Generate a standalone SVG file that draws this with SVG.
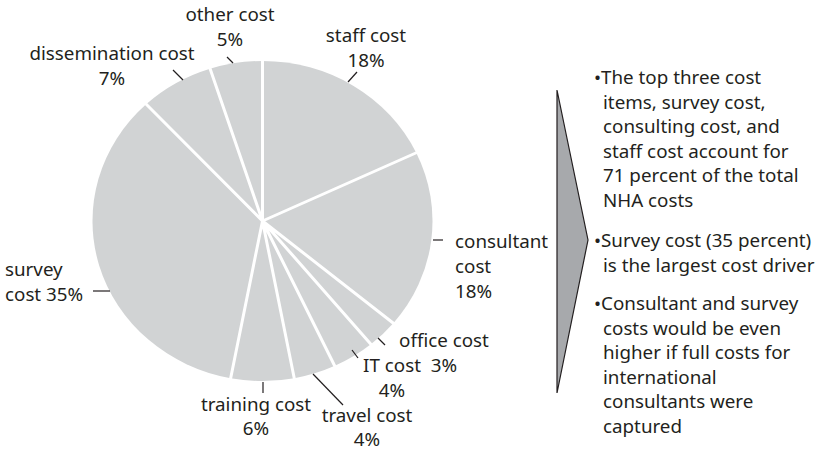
<svg xmlns="http://www.w3.org/2000/svg" width="818" height="452" viewBox="0 0 818 452">
<style>
.sl{fill:#d1d3d4}
.sep{stroke:#fff;stroke-width:3;fill:none}
.ld{stroke:#231f20;stroke-width:1.2;fill:none}
text{font-family:"Noto Sans","Open Sans","Liberation Sans",sans-serif;font-size:18.8px;fill:#231f20}
.m{text-anchor:middle}
</style>
<rect width="818" height="452" fill="#fff"/>
<g id="pie">
<g id="slice-staff"><path class="sl" d="M262.5,221 L262.5,61 A170,160 0 0 1 416.32,152.88 Z"/></g>
<g id="slice-consultant"><path class="sl" d="M262.5,221 L416.32,152.88 A170,160 0 0 1 393.49,322.99 Z"/></g>
<g id="slice-office"><path class="sl" d="M262.5,221 L393.49,322.99 A170,160 0 0 1 370.86,344.28 Z"/></g>
<g id="slice-it"><path class="sl" d="M262.5,221 L370.86,344.28 A170,160 0 0 1 334.88,365.77 Z"/></g>
<g id="slice-travel"><path class="sl" d="M262.5,221 L334.88,365.77 A170,160 0 0 1 294.35,378.17 Z"/></g>
<g id="slice-training"><path class="sl" d="M262.5,221 L294.35,378.17 A170,160 0 0 1 230.65,378.17 Z"/></g>
<g id="slice-survey"><path class="sl" d="M262.5,221 L230.65,378.17 A170,160 0 0 1 146.13,104.36 Z"/></g>
<g id="slice-dissemination"><path class="sl" d="M262.5,221 L146.13,104.36 A170,160 0 0 1 209.97,68.83 Z"/></g>
<g id="slice-other"><path class="sl" d="M262.5,221 L209.97,68.83 A170,160 0 0 1 262.5,61 Z"/></g>
</g>
<g id="separators" class="sep">
<path d="M262.5,221 L262.5,59 M262.5,221 L418,152 M262.5,221 L395,324.5 M262.5,221 L372,345.5 M262.5,221 L335.5,367.5 M262.5,221 L294.6,380 M262.5,221 L230.3,380 M262.5,221 L145,103 M262.5,221 L209.5,67"/>
</g>
<g id="connectors" class="ld">
<path d="M348,82 L357,72"/>
<path d="M227,57 L233,63"/>
<path d="M173,70 L183,80"/>
<path d="M433,240 L443,240"/>
<path d="M93,291 L110,291"/>
<path d="M378,338 L385,345"/>
<path d="M352,350 L358,358"/>
<path d="M313,374 L343,405"/>
<path d="M263,382 L263,393"/>
</g>
<g id="label-other"><text class="m" x="230" y="21">other cost</text><text class="m" x="230" y="46">5%</text></g>
<g id="label-staff"><text class="m" x="366" y="42">staff cost</text><text class="m" x="366" y="67">18%</text></g>
<g id="label-dissemination"><text class="m" x="112" y="60">dissemination cost</text><text class="m" x="112" y="85">7%</text></g>
<g id="label-consultant"><text x="455" y="248">consultant</text><text x="455" y="273">cost</text><text x="455" y="298">18%</text></g>
<g id="label-office"><text class="m" x="444" y="347">office cost</text><text class="m" x="444" y="372">3%</text></g>
<g id="label-it"><text class="m" x="392" y="372">IT cost</text><text class="m" x="392" y="397">4%</text></g>
<g id="label-travel"><text class="m" x="367" y="422">travel cost</text><text class="m" x="367" y="446">4%</text></g>
<g id="label-training"><text class="m" x="256" y="411">training cost</text><text class="m" x="256" y="435">6%</text></g>
<g id="label-survey"><text x="5" y="276">survey</text><text x="5" y="301">cost 35%</text></g>
<g id="arrow"><polygon points="557,90 588,240 557,393" fill="#a7a9ac" stroke="#231f20" stroke-width="1.2" stroke-linejoin="miter"/></g>
<g id="notes">
<text x="594" y="84">•The top three cost</text>
<text x="603" y="108.6">items, survey cost,</text>
<text x="603" y="133.2">consulting cost, and</text>
<text x="603" y="157.8">staff cost account for</text>
<text x="603" y="182.4">71 percent of the total</text>
<text x="603" y="207">NHA costs</text>
<text x="594" y="247">•Survey cost (35 percent)</text>
<text x="603" y="271.6">is the largest cost driver</text>
<text x="594" y="310">•Consultant and survey</text>
<text x="603" y="334.6">costs would be even</text>
<text x="603" y="359.2">higher if full costs for</text>
<text x="603" y="383.8">international</text>
<text x="603" y="408.4">consultants were</text>
<text x="603" y="433">captured</text>
</g>
</svg>
